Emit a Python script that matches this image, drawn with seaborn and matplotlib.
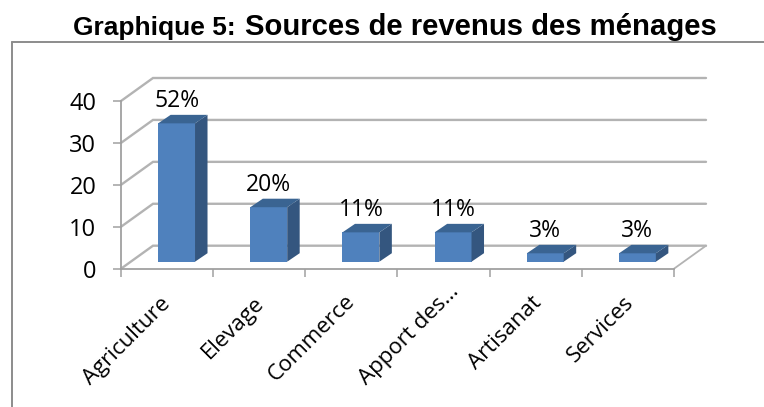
import matplotlib
matplotlib.use("Agg")
import matplotlib.pyplot as plt
import seaborn as sns
import pandas as pd
from matplotlib.lines import Line2D
from matplotlib.patches import Polygon
from matplotlib.transforms import ScaledTranslation

categories = ["Agriculture", "Elevage", "Commerce", "Apport des…", "Artisanat", "Services"]
values = [33, 13, 7, 7, 2, 2]
labels = ["52%", "20%", "11%", "11%", "3%", "3%"]
y_ticks = [0, 10, 20, 30, 40]
# small per-label pixel nudges of the rotated category labels
label_nudge_x = [-7, -6, -7, 5, -5, -5]
label_nudge_y = [-1, 0, 2, 11, 0, 0]

W, H = 764, 407
sns.set_theme(style="white")
plt.rcParams["font.family"] = ["Open Sans", "DejaVu Sans"]

FRONT, SIDE, TOP = "#4F81BD", "#34567F", "#3A6492"
GRID, AXIS = "#B3B3B3", "#A0A0A0"

fig = plt.figure(figsize=(W / 100, H / 100), dpi=100, facecolor="white")
ax = fig.add_axes([121 / W, 1 - 268.7 / H, 553 / W, 167.7 / H])

df = pd.DataFrame({"cat": categories, "val": values})
sns.barplot(data=df, x="cat", y="val", color=FRONT, saturation=1, width=0.4, ax=ax, zorder=3)
ax.set_xlim(-0.5, 5.5)
ax.set_ylim(0, 40)
ax.set_xlabel("")
ax.set_ylabel("")

# pixel -> data scale factors
ux, uy = 6 / 553, 40 / 167.7
wall_dx, wall_dy = 32 * ux, 23 * uy      # depth of the back wall
bar_dx, bar_dy = 12.5 * ux, 8.5 * uy     # depth of a bar
shift_x, shift_y = 9.5 * ux, 7 * uy      # bar placement on the floor

# back wall, side wall and floor
for v in y_ticks:
    ax.plot([-0.5, -0.5 + wall_dx, 5.5 + wall_dx], [v, v + wall_dy, v + wall_dy],
            color=GRID, lw=1.7, clip_on=False, zorder=1, solid_joinstyle="miter")
ax.plot([5.5, 5.5 + wall_dx], [0, wall_dy], color=GRID, lw=1.3, clip_on=False, zorder=1)

# extruded bars built from the drawn seaborn bars
for patch in ax.patches:
    patch.set_x(patch.get_x() + shift_x)
    patch.set_y(shift_y)
    patch.set_linewidth(0)
for patch, lab in zip(list(ax.patches), labels):
    x0, w = patch.get_x(), patch.get_width()
    y0, h = patch.get_y(), patch.get_height()
    x1, y1 = x0 + w, y0 + h
    ax.add_patch(Polygon([(x1, y0), (x1 + bar_dx, y0 + bar_dy), (x1 + bar_dx, y1 + bar_dy), (x1, y1)],
                         closed=True, fc=SIDE, ec="none", zorder=3, clip_on=False))
    ax.add_patch(Polygon([(x0, y1), (x0 + bar_dx, y1 + bar_dy), (x1 + bar_dx, y1 + bar_dy), (x1, y1)],
                         closed=True, fc=TOP, ec="none", zorder=3, clip_on=False))
    ax.annotate(lab, (x0 + w / 2, y1 + bar_dy), xytext=(0, 10), textcoords="offset points",
                ha="center", va="center", fontsize=16.5, color="black", zorder=5, annotation_clip=False)

# axes
for s in ("top", "right"):
    ax.spines[s].set_visible(False)
for s in ("left", "bottom"):
    ax.spines[s].set_color(AXIS)
    ax.spines[s].set_linewidth(1.3)
ax.set_yticks(y_ticks)
ax.tick_params(axis="y", which="major", left=True, length=5.8, width=1.1, color=AXIS,
               labelsize=17, labelcolor="black", pad=12)
ax.set_xticks(range(len(categories)))
ax.set_xticklabels(categories, rotation=45, ha="right", va="top", rotation_mode="anchor",
                   fontsize=16, color="black")
ax.tick_params(axis="x", which="major", bottom=False, length=0, pad=17)
ax.set_xticks([i - 0.5 for i in range(len(categories) + 1)], minor=True)
ax.tick_params(axis="x", which="minor", bottom=True, length=6, width=1.1, color=AXIS)
for t, nx, ny in zip(ax.get_xticklabels(), label_nudge_x, label_nudge_y):
    t.set_transform(t.get_transform() + ScaledTranslation(nx / 100, ny / 100, fig.dpi_scale_trans))

# outer frame
fig.add_artist(Line2D([11.5 / W, 11.5 / W], [0, 1 - 41.5 / H], color="#8C8C8C", lw=1.4))
fig.add_artist(Line2D([11.5 / W, 1], [1 - 41.5 / H, 1 - 41.5 / H], color="#8C8C8C", lw=1.4))

# title
fig.text(73 / W, 1 - 35 / H, "Graphique 5:", family="Liberation Sans", weight="bold",
         fontsize=19, color="black", ha="left", va="baseline")
fig.text(717 / W, 1 - 35 / H, "Sources de revenus des ménages", family="Liberation Sans", weight="bold",
         fontsize=21.1, color="black", ha="right", va="baseline")

fig.savefig("out.png", dpi=100)
